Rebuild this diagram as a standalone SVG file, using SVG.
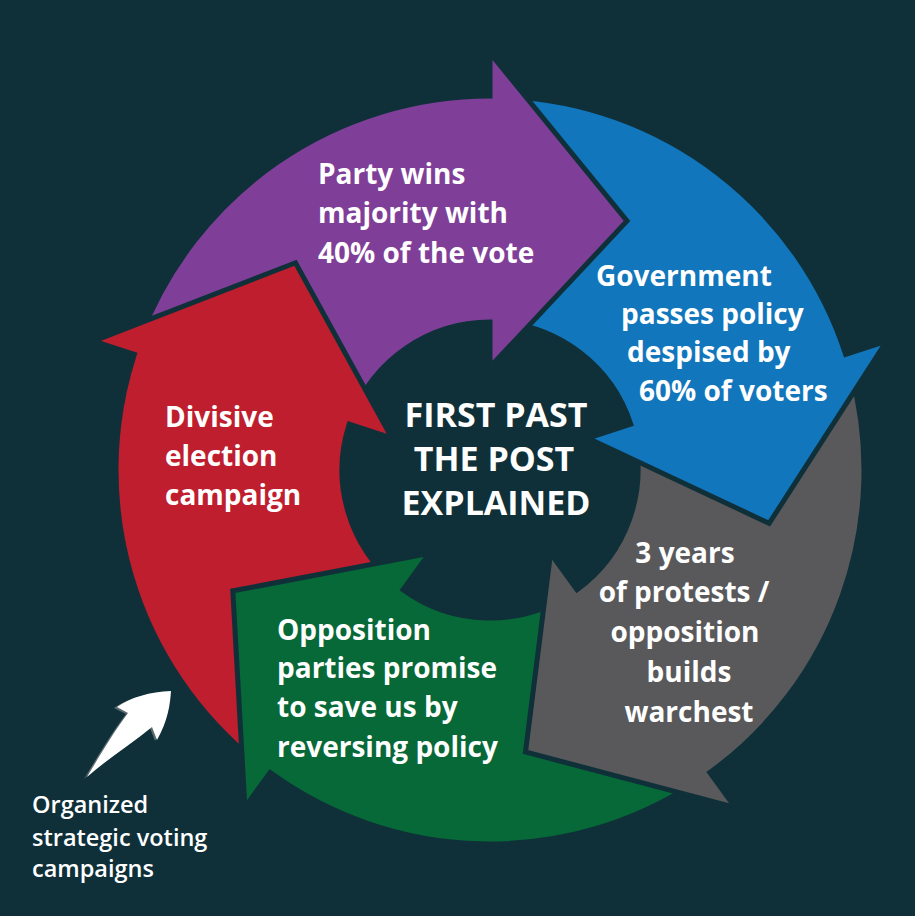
<svg xmlns="http://www.w3.org/2000/svg" xmlns:xlink="http://www.w3.org/1999/xlink" width="915" height="916" viewBox="0 0 915 916">
<style>
.seg{stroke:#0f3039;stroke-width:5;stroke-linejoin:miter;stroke-miterlimit:10}
.purple{fill:#7f3f98}.blue{fill:#1176bc}.gray{fill:#59595b}.green{fill:#076838}.red{fill:#be1e2d}
.t{font-family:"Open Sans","Liberation Sans",sans-serif;font-weight:700;font-size:28px;fill:#ffffff}
.c{font-size:34px;text-anchor:middle}
.m{text-anchor:middle}
.s{font-family:"Open Sans","Liberation Sans",sans-serif;font-weight:600;font-size:23.5px;fill:#ffffff}
</style>
<defs>
<path id="seg" d="M-349.16,-134.03 A374,374 0 0 1 0,-374 L0,-417 L137,-249 L0,-103 L0,-148 A148,148 0 0 0 -138.17,-53.04 Z"/>
<clipPath id="redclip" clipPathUnits="userSpaceOnUse"><path d="M490,470 L46.8,391.9 L213,115.4 Z"/></clipPath>
</defs>
<rect x="0" y="0" width="915" height="916" fill="#0f3039"/>
<g id="node-red"><use xlink:href="#seg" href="#seg" class="seg red" transform="translate(490,470) rotate(288)"/></g>
<g id="node-green"><use xlink:href="#seg" href="#seg" class="seg green" transform="translate(490,470) rotate(216)"/></g>
<g id="node-gray"><use xlink:href="#seg" href="#seg" class="seg gray" transform="translate(490,470) rotate(144)"/></g>
<g id="node-blue"><use xlink:href="#seg" href="#seg" class="seg blue" transform="translate(490,470) rotate(72)"/></g>
<g id="node-purple"><use xlink:href="#seg" href="#seg" class="seg purple" transform="translate(490,470) rotate(0)"/></g>
<g id="node-red-head" clip-path="url(#redclip)"><use xlink:href="#seg" href="#seg" class="seg red" transform="translate(490,470) rotate(288)"/></g>
<g id="connectors">
<path d="M84,779 C98,756 113,731 126,714 L114,708 C128,698 148,693 169,692 C168,706 166,721 155,741 L150,728 C128,746 103,761 84,779 Z" fill="#5d6b6f"/>
<path d="M87,777 C100,755 115,730 128,713 L117,707 C131,697 150,692 171,691 C170,705 168,720 157,740 L152,727 C130,745 106,760 87,777 Z" fill="#ffffff"/>
</g>
<g id="label-purple"><text class="t" x="318" y="184">Party wins</text><text class="t" x="318" y="223">majority with</text><text class="t" x="318" y="263">40% of the vote</text></g>
<g id="label-blue"><text class="t" x="596" y="286">Government</text><text class="t" x="621" y="324">passes policy</text><text class="t" x="627" y="362">despised by</text><text class="t" x="639" y="401">60% of voters</text></g>
<g id="label-center"><text class="t c" x="496" y="427">FIRST PAST</text><text class="t c" x="494" y="471">THE POST</text><text class="t c" x="496" y="515">EXPLAINED</text></g>
<g id="label-red"><text class="t" x="165" y="427">Divisive</text><text class="t" x="165" y="466">election</text><text class="t" x="165" y="505">campaign</text></g>
<g id="label-green"><text class="t" x="277" y="640">Opposition</text><text class="t" x="277" y="678">parties promise</text><text class="t" x="277" y="717">to save us by</text><text class="t" x="277" y="757">reversing policy</text></g>
<g id="label-gray"><text class="t m" x="685" y="563">3 years</text><text class="t m" x="684" y="602">of protests /</text><text class="t m" x="685" y="642">opposition</text><text class="t m" x="689" y="682">builds</text><text class="t m" x="689" y="722">warchest</text></g>
<g id="label-strategic"><text class="s" x="32" y="813">Organized</text><text class="s" x="32" y="846">strategic voting</text><text class="s" x="32" y="877">campaigns</text></g>
</svg>
